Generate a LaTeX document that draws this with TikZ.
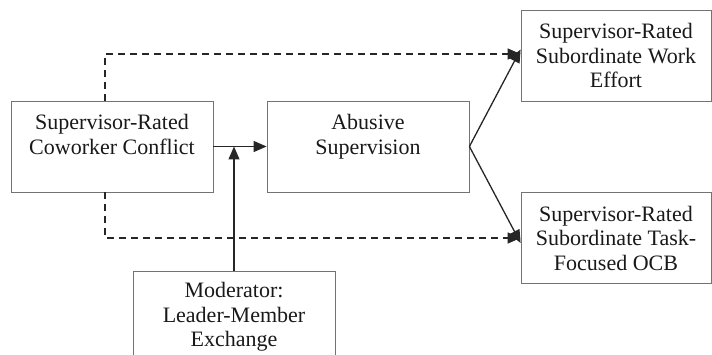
\documentclass[tikz,border=0pt]{standalone}
\usepackage{fontspec}
\setmainfont{Liberation Serif}
\usetikzlibrary{calc,arrows.meta}
\tikzset{
	varbox/.style = {draw = black!55, line width = 0.8pt, align = center,
		text = black!90, font = \fontsize{22}{24.5}\selectfont,
		minimum height = 91pt, inner sep = 0pt},
	path/.style = {line width = 1.3pt, black!85,
		-{Triangle[length = 13pt, width = 11pt]}},
	dpath/.style = {path, dash pattern = on 7pt off 5pt}
}
\begin{document}
\begin{tikzpicture}[x = 1pt, y = -1pt]
	
	\useasboundingbox (0,0) rectangle (712,355);
	
	% boxes
	\node[varbox, minimum width = 202pt] (conflict) at (112,146.5)
	{Supervisor-Rated\\Coworker Conflict\\\mbox{}};
	\node[varbox, minimum width = 202pt] (abusive) at (368,146.5)
	{Abusive\\Supervision\\\mbox{}};
	\node[varbox, minimum width = 190pt] (effort) at (616,55.5)
	{Supervisor-Rated\\Subordinate Work\\Effort};
	\node[varbox, minimum width = 190pt] (ocb) at (616,238)
	{Supervisor-Rated\\Subordinate Task-\\Focused OCB};
	\node[varbox, minimum width = 202pt, anchor = north] (moderator) at (234,271)
	{Moderator:\\Leader-Member\\Exchange};
	
	% main path
	\draw[path] (conflict.east) -- (abusive.west);
	\coordinate (join) at (moderator.north |- conflict.east);
	\draw[path] (moderator.north) -- (join);
	
	% abusive supervision to outcomes
	\draw[path] (abusive.east) -- ([yshift = 6pt]effort.west);
	\draw[path] (abusive.east) -- ([yshift = -5pt]ocb.west);
	
	% direct effects
	\draw[dpath] ([xshift = -7pt]conflict.north) |- ([yshift = 1.5pt]effort.west);
	\draw[dpath] ([xshift = -7pt]conflict.south) |- (ocb.west);
	
\end{tikzpicture}
\end{document}
